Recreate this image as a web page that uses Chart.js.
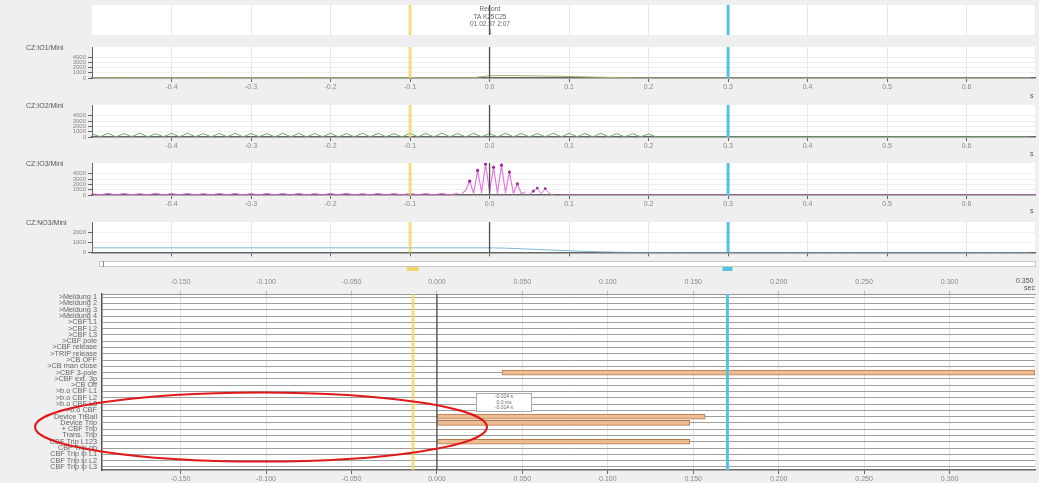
<!DOCTYPE html>
<html><head><meta charset="utf-8">
<script src="https://cdn.jsdelivr.net/npm/chart.js@4/dist/chart.umd.min.js"></script>
<style>
html,body{margin:0;padding:0}
body{background:#efefef;width:1039px;height:483px;overflow:hidden;position:relative;font-family:"Liberation Sans",Arial,sans-serif}
canvas{position:absolute;left:0}
.t{position:absolute;font-size:7px;color:#555;white-space:nowrap;line-height:7px;z-index:2}
.ttl{position:absolute;left:440px;width:100px;text-align:center;font-size:6.5px;color:#666;line-height:7.5px;top:5px;z-index:2}
.box{position:absolute;left:476px;top:393px;width:54px;height:17px;background:#fff;border:1px solid #aaa;font-size:5px;line-height:5.5px;color:#666;text-align:center;z-index:2}
</style></head><body>

<canvas id="hdr" width="1039" height="34" style="top:3px"></canvas>
<canvas id="p1" width="1039" height="56" style="top:40px"></canvas>
<canvas id="p2" width="1039" height="57" style="top:98px"></canvas>
<canvas id="p3" width="1039" height="57" style="top:156px"></canvas>
<canvas id="p4" width="1039" height="43" style="top:215px"></canvas>
<canvas id="dig" width="1039" height="225" style="top:258px"></canvas>

<div class="ttl">Record<br>TA K25C25<br>01.02.37 2:07<br>1</div>
<div class="t" style="left:26px;top:44px">CZ:IO1/Mini</div>
<div class="t" style="left:26px;top:102px">CZ:IO2/Mini</div>
<div class="t" style="left:26px;top:160px">CZ:IO3/Mini</div>
<div class="t" style="left:26px;top:219px">CZ:NO3/Mini</div>
<div class="t" style="left:1030px;top:92px">s</div>
<div class="t" style="left:1030px;top:150px">s</div>
<div class="t" style="left:1030px;top:207px">s</div>
<div class="t" style="left:1016px;top:277px">0.350</div>
<div class="t" style="left:1024px;top:284px">sec</div>
<div class="box">-0.014 s<br>0.0 ms<br>-0.014 s</div>

<script>
// ---------- data ----------
const UPPER_TICKS = [-0.4,-0.3,-0.2,-0.1,0,0.1,0.2,0.3,0.4,0.5,0.6];
const LOWER_TICKS = [-0.15,-0.1,-0.05,0,0.05,0.1,0.15,0.2,0.25,0.3];
const Y_TICKS_A = [0,1000,2000,3000,4000];
const Y_TICKS_B = [0,1000,2000];
const UPPER_CURSORS = [-0.1, 0, 0.3];      // yellow, trigger, cyan
const LOWER_CURSORS = [-0.014, 0, 0.170];  // yellow, trigger, cyan

// Panel 1 (sample step 0.02 s starting at -0.5 s)
const P1_VALUES = [60,50,70,60,55,65,60,50,70,60,55,65,60,50,70,60,55,65,60,50,70,60,55,65,60,
  450,470,440,400,350,290,220,150,80,20,
  0,0,0,0,0,0,0,0,0,0,0,0,0,0,0,0,0,0,0,0,0,0,0,0,0];

// Panel 2 (sample step 0.01 s starting at -0.5 s)
const P2_VALUES = [620,40,700,20,660,50,720,10,640,30,
  690,20,710,40,650,10,680,30,700,20,
  670,50,640,10,720,30,690,20,660,40,
  700,10,650,30,710,20,680,40,640,10,
  700,30,670,20,720,50,660,10,690,30,
  650,20,700,40,680,10,640,30,720,20,
  690,50,660,10,700,30,650,20,610,40,560,
  0,0,0,0,0,0,0,0,0,0,0,0,0,0,0,0,0,0,0,0,0,0,0,0,
  0,0,0,0,0,0,0,0,0,0,0,0,0,0,0,0,0,0,0,0,0,0,0,0];

// Panel 3: baseline (step 0.01 from -0.5), burst (step 0.005 from -0.035), after-burst (step 0.005 from 0.05), tail
const P3A_VALUES = [260,20,300,10,280,30,250,20,310,10,270,30,290,20,260,10,300,30,280,20,
  250,10,290,30,270,20,300,10,260,30,280,20,310,10,250,30,290,20,270,10,300,30,260,20,280,10,290];
const P3B_VALUES = [200,900,2600,300,4600,500,5800,600,5200,400,5600,500,4300,300,2100,200,600];
const P3C_VALUES = [100,700,1300,200,1200,300,0];
const P3D_TIMES = [0.09, 0.686];
const P3D_VALUES = [0, 0];

// Panel 4 (sample step 0.02 s starting at -0.5 s)
const P4_VALUES = [450,450,450,450,450,450,450,450,450,450,450,450,450,450,450,450,450,450,450,450,450,450,450,450,450,
  450,420,360,290,220,160,100,55,20,0,
  0,0,0,0,0,0,0,0,0,0,0,0,0,0,0,0,0,0,0,0,0,0,0,0,0];

// Digital channels
const CH_NAMES = [">Meldung 1",">Meldung 2",">Meldung 3",">Meldung 4",
  ">CBF L1",">CBF L2",">CBF L3",">CBF pole",
  ">CBF release",">TRIP release",">CB OFF",">CB man close",
  ">CBF 3-pole",">CBF ext. 3p",">CB Off",">b.o CBF L1",
  ">b.o CBF L2",">b.o CBF L3",">b.o CBF",
  "Device TrBail","Device Trip","+ CBF Trip","Trans. Trip",
  "CBF Trip L123","CBF Trip ph","CBF Trip ip L1","CBF Trip ip L2","CBF Trip ip L3"];
const CH_ON  = [null,null,null,null,null,null,null,null,null,null,null,null,
  0.038,null,null,null,null,null,null,
  0,0,null,null,0,null,null,null,null];
const CH_OFF = [null,null,null,null,null,null,null,null,null,null,null,null,
  0.35,null,null,null,null,null,null,
  0.157,0.148,null,null,0.148,null,null,null,null];

// ---------- helpers ----------
Chart.defaults.devicePixelRatio = 1;
const FONT = {family:'"Liberation Sans", Arial, sans-serif', size:7};
const YFONT = {family:'"Liberation Sans", Arial, sans-serif', size:6};
const XMIN = -0.5, XMAX = 0.686;
const LMIN = -0.196, LMAX = 0.35;
function series(t0, dt, vals){ return vals.map((v,i)=>({x:+(t0+i*dt).toFixed(4), y:v})); }

const bgPlugin = {id:'areaBg', beforeDraw(c){const {ctx,chartArea:a}=c; ctx.save(); ctx.fillStyle='#ffffff'; ctx.fillRect(a.left,a.top,a.right-a.left,a.bottom-a.top); ctx.restore();}};
const CURSOR_STYLE = [{color:'rgba(240,214,90,0.75)', w:3},{color:'#4a4a4a', w:1.3},{color:'#55c3df', w:3}];
const cursorPlugin = {id:'cursors', afterDatasetsDraw(c, args, opts){
  const {ctx, chartArea:a} = c; const sx = c.scales.x;
  (opts.times||[]).forEach((t,i)=>{const px = sx.getPixelForValue(t); const st = CURSOR_STYLE[i];
    ctx.save(); ctx.strokeStyle = st.color; ctx.lineWidth = st.w; ctx.beginPath(); ctx.moveTo(px,a.top); ctx.lineTo(px,a.bottom); ctx.stroke(); ctx.restore();});
}};

function xUpper(showLabels, axisH, display){
  return {type:'linear', min:XMIN, max:XMAX,
    afterBuildTicks:s=>{s.ticks = UPPER_TICKS.map(v=>({value:v}));},
    afterFit:s=>{s.height = axisH;},
    ticks:{display:showLabels, font:FONT, color:'#888', maxRotation:0, autoSkip:false, padding:1, callback:v=>Number(v).toFixed(1)},
    grid:{color:'#e6e6e6', tickLength:4, tickColor:'#666', drawTicks:display!==false},
    border:{display:display!==false, color:'#666', width:1.5}};
}
function makeAnalog(id, datasets, yMax, yTicks, showX, axisH){
  new Chart(document.getElementById(id), {type:'line', data:{datasets},
    options:{responsive:false, animation:false, events:[], parsing:true,
      layout:{padding:{top:7,right:4,left:0,bottom:0}},
      plugins:{legend:{display:false}, tooltip:{enabled:false}, cursors:{times:UPPER_CURSORS}},
      scales:{x:xUpper(showX, axisH),
        y:{min:0, max:yMax, afterBuildTicks:s=>{s.ticks = yTicks.map(v=>({value:v}));}, afterFit:s=>{s.width = 92;},
          ticks:{font:YFONT, color:'#888', padding:2, autoSkip:false, callback:v=>String(v)},
          grid:{color:'#efefef', tickLength:4, tickColor:'#666'}, border:{color:'#666', width:1}}}},
    plugins:[bgPlugin, cursorPlugin]});
}
function ds(points, color, extra){ return Object.assign({data:points, borderColor:color, borderWidth:1, pointRadius:0, tension:0}, extra||{}); }

// ---------- header ----------
new Chart(document.getElementById('hdr'), {type:'line', data:{datasets:[]},
  options:{responsive:false, animation:false, events:[], layout:{padding:{top:2,right:4,left:92,bottom:0}},
    plugins:{legend:{display:false}, tooltip:{enabled:false}, cursors:{times:UPPER_CURSORS}},
    scales:{x:xUpper(false, 2, false), y:{display:false, min:0, max:1}}},
  plugins:[bgPlugin, cursorPlugin]});

// ---------- analog panels ----------
makeAnalog('p1', [ds(series(-0.5,0.02,P1_VALUES), '#9db46a')], 6000, Y_TICKS_A, true, 18);
makeAnalog('p2', [ds(series(-0.5,0.01,P2_VALUES), '#62ad62')], 6000, Y_TICKS_A, true, 18);
makeAnalog('p3', [
  ds(series(-0.5,0.01,P3A_VALUES), '#d65bd0', {borderWidth:1}),
  ds(series(-0.035,0.005,P3B_VALUES), '#e27ade', {borderWidth:1.2, pointRadius:c=>(c.raw && c.raw.y>1000)?1.6:0, pointBackgroundColor:'#9a2c96', pointBorderWidth:0}),
  ds(series(0.05,0.005,P3C_VALUES), '#e27ade', {pointRadius:c=>(c.raw && c.raw.y>600)?1.4:0, pointBackgroundColor:'#9a2c96', pointBorderWidth:0}),
  ds(P3D_TIMES.map((t,i)=>({x:t, y:P3D_VALUES[i]})), '#d65bd0')
], 6000, Y_TICKS_A, true, 18);
makeAnalog('p4', [ds(series(-0.5,0.02,P4_VALUES), '#7db7dd')], 3000, Y_TICKS_B, false, 5);

// ---------- digital panel ----------
const rulerPlugin = {id:'ruler', afterDraw(c){
  const {ctx, chartArea:a} = c; const sx = c.scales.x;
  ctx.save();
  ctx.fillStyle = '#ffffff'; ctx.fillRect(99, 3, a.right-99, 5);
  ctx.strokeStyle = '#c8c8c8'; ctx.lineWidth = 1; ctx.strokeRect(99.5, 3.5, a.right-99, 5);
  ctx.strokeStyle = '#888'; ctx.beginPath(); ctx.moveTo(103.5, 3); ctx.lineTo(103.5, 9); ctx.stroke();
  const y1 = sx.getPixelForValue(LOWER_CURSORS[0]), y2 = sx.getPixelForValue(LOWER_CURSORS[2]);
  ctx.fillStyle = 'rgba(240,214,90,0.9)'; ctx.fillRect(y1-6, 9, 12, 4);
  ctx.fillStyle = '#55c3df'; ctx.fillRect(y2-5, 9, 10, 4);
  // red annotation ellipse
  ctx.strokeStyle = '#e0191b'; ctx.lineWidth = 2;
  ctx.beginPath(); ctx.ellipse(261, 427-258, 226, 34.5, 0, 0, Math.PI*2); ctx.stroke();
  ctx.restore();
}};
new Chart(document.getElementById('dig'), {type:'bar',
  data:{labels:CH_NAMES, datasets:[{data:CH_ON.map((s,i)=>s===null?null:[s, CH_OFF[i]]),
    backgroundColor:'#ecbd93', borderColor:'#b27a4e', borderWidth:1, borderSkipped:false, barThickness:5, xAxisID:'x', yAxisID:'y'}]},
  options:{indexAxis:'y', responsive:false, animation:false, events:[],
    layout:{padding:{top:0,right:4,left:0,bottom:0}},
    plugins:{legend:{display:false}, tooltip:{enabled:false}, cursors:{times:LOWER_CURSORS}},
    scales:{
      x:{type:'linear', position:'top', min:LMIN, max:LMAX,
        afterBuildTicks:s=>{s.ticks = LOWER_TICKS.map(v=>({value:v}));}, afterFit:s=>{s.height = 36;},
        ticks:{font:FONT, color:'#888', maxRotation:0, autoSkip:false, padding:5, callback:v=>Number(v).toFixed(3)},
        grid:{color:'#e2e2e2', tickLength:3, tickColor:'#bbb'}, border:{color:'#999'}},
      x2:{type:'linear', position:'bottom', min:LMIN, max:LMAX,
        afterBuildTicks:s=>{s.ticks = LOWER_TICKS.map(v=>({value:v}));}, afterFit:s=>{s.height = 13;},
        ticks:{font:FONT, color:'#888', maxRotation:0, autoSkip:false, padding:1, callback:v=>Number(v).toFixed(3)},
        grid:{drawOnChartArea:false, tickLength:4, tickColor:'#666'}, border:{color:'#666', width:1.5}},
      y:{type:'category', afterFit:s=>{s.width = 102;},
        ticks:{font:{family:FONT.family, size:7.3}, color:'#666', autoSkip:false, padding:5},
        grid:{offset:false, color:'#9f9f9f', drawTicks:false}, border:{color:'#555', width:1.5}}}},
  plugins:[bgPlugin, cursorPlugin, rulerPlugin]});
</script>
</body></html>
